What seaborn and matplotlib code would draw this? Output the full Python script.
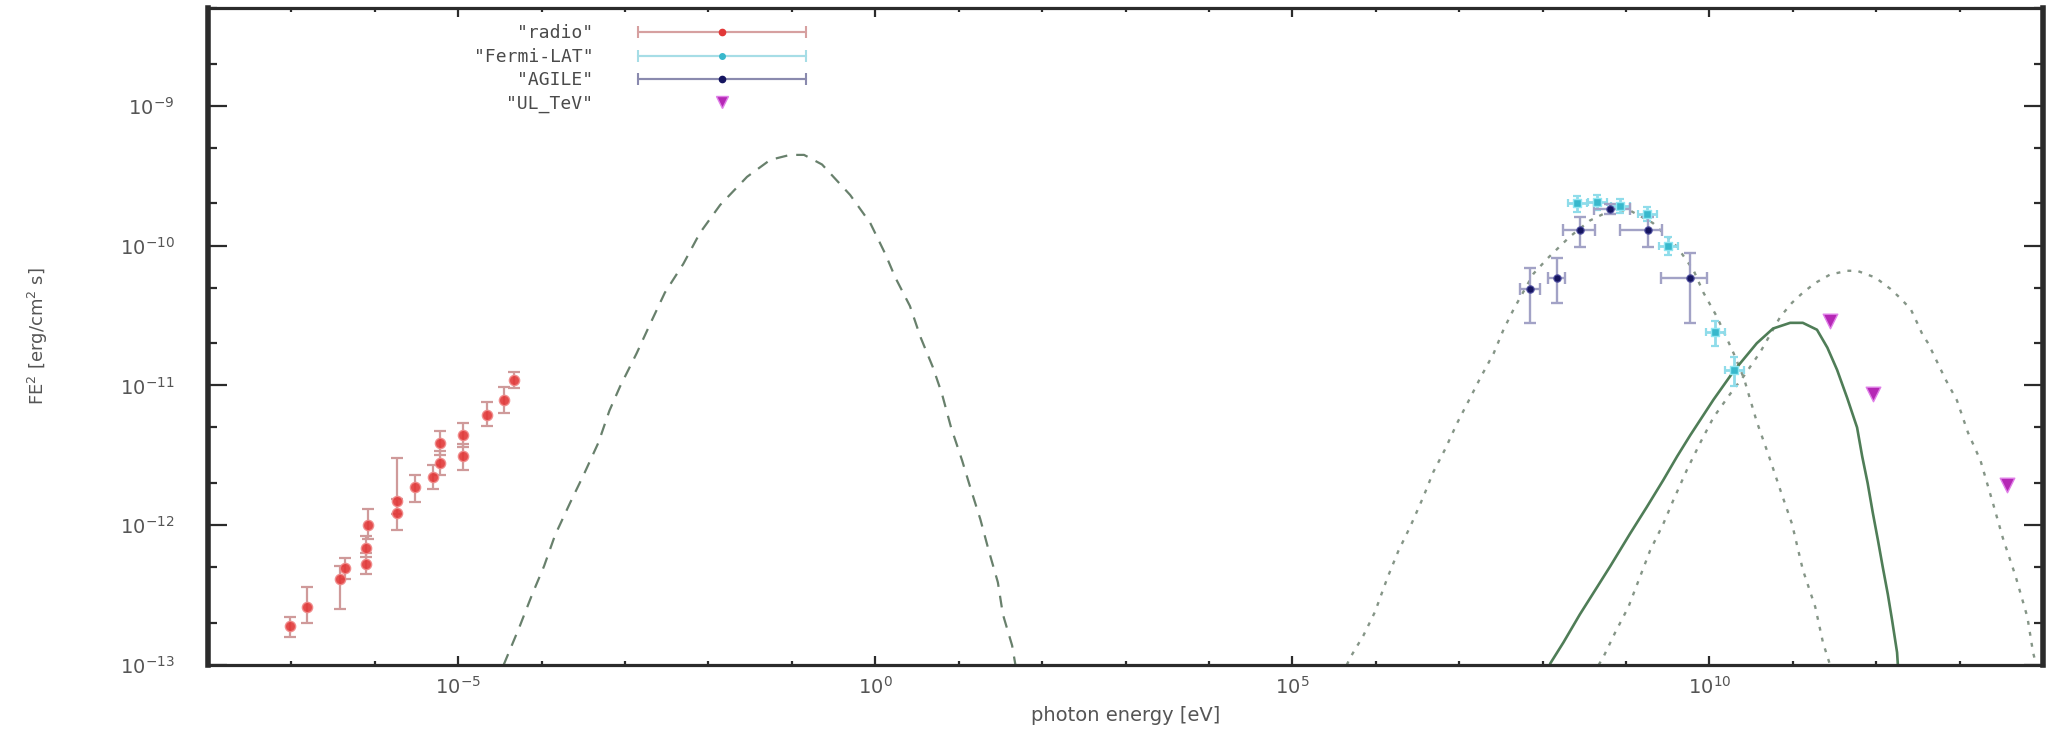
import numpy as np
import pandas as pd
import matplotlib
matplotlib.use("Agg")
import matplotlib.pyplot as plt
import seaborn as sns
from matplotlib.lines import Line2D
from matplotlib.legend_handler import HandlerLine2D, HandlerTuple
from matplotlib.ticker import FixedLocator, FixedFormatter, NullFormatter

# ---------------- data ----------------
radio_E = [9.6e-8, 1.55e-7, 3.8e-7, 4.4e-7, 7.8e-7, 7.8e-7, 8.3e-7, 1.86e-6, 1.86e-6,
           3.0e-6, 5.0e-6, 6.0e-6, 6.0e-6, 1.15e-5, 1.15e-5, 2.2e-5, 3.5e-5, 4.6e-5]
radio_F = [1.9e-13, 2.6e-13, 4.1e-13, 4.9e-13, 5.3e-13, 6.9e-13, 1.0e-12, 1.23e-12, 1.5e-12,
           1.87e-12, 2.2e-12, 2.8e-12, 3.9e-12, 3.1e-12, 4.4e-12, 6.1e-12, 7.8e-12, 1.1e-11]
radio_dF_lo = [0.32e-13, 0.6e-13, 1.6e-13, 0.8e-13, 0.8e-13, 1.0e-13, 0.2e-12, 0.3e-12, 0.3e-12,
               0.4e-12, 0.4e-12, 0.5e-12, 0.7e-12, 0.6e-12, 0.8e-12, 1.0e-12, 1.5e-12, 0.15e-11]
radio_dF_hi = [0.3e-13, 1.0e-13, 1.0e-13, 0.9e-13, 1.0e-13, 1.5e-13, 0.3e-12, 0.3e-12, 1.5e-12,
               0.4e-12, 0.5e-12, 0.6e-12, 0.8e-12, 0.7e-12, 1.0e-12, 1.5e-12, 2.0e-12, 0.15e-11]

fermi_E = [2.6e8, 4.5e8, 8.5e8, 1.8e9, 3.2e9, 1.17e10, 2.0e10]
fermi_F = [2.0e-10, 2.06e-10, 1.93e-10, 1.69e-10, 1.0e-10, 2.4e-11, 1.29e-11]
fermi_dF_lo = [0.25e-10, 0.25e-10, 0.22e-10, 0.2e-10, 0.15e-10, 0.5e-11, 0.3e-11]
fermi_dF_hi = [0.25e-10, 0.25e-10, 0.22e-10, 0.2e-10, 0.15e-10, 0.5e-11, 0.3e-11]
fermi_dE_lo = [0.6e8, 1.0e8, 1.9e8, 0.4e9, 0.7e9, 0.27e10, 0.45e10]
fermi_dE_hi = [0.8e8, 1.4e8, 2.6e8, 0.55e9, 1.0e9, 0.35e10, 0.6e10]

agile_E = [7.1e7, 1.5e8, 2.8e8, 6.5e8, 1.86e9, 5.9e9]
agile_F = [4.9e-11, 5.9e-11, 1.29e-10, 1.82e-10, 1.29e-10, 5.9e-11]
agile_dF_lo = [2.1e-11, 2.0e-11, 3.1e-11, 1.5e-11, 3.1e-11, 3.1e-11]
agile_dF_hi = [2.0e-11, 2.2e-11, 3.0e-11, 1.5e-11, 3.0e-11, 3.0e-11]
agile_dE_lo = [1.7e7, 0.33e8, 1.06e8, 2.4e8, 1.0e9, 3.3e9]
agile_dE_hi = [2.2e7, 0.36e8, 1.5e8, 4.7e8, 0.84e9, 3.4e9]

ul_E = [2.8e11, 9.1e11, 3.7e13]
ul_F = [2.9e-11, 8.7e-12, 1.94e-12]

# synchrotron model (dashed)
sync_E = [3.5e-5, 5.4e-5, 7.7e-5, 1.07e-4, 1.45e-4, 2.2e-4, 3.2e-4, 4.8e-4, 6.5e-4, 8.7e-4,
          1.38e-3, 2.0e-3, 3.0e-3, 5.0e-3, 7.9e-3, 1.38e-2, 2.9e-2, 5.5e-2, 9.5e-2, 0.14, 0.23,
          0.50, 0.87, 1.32, 1.74, 2.6, 3.5, 4.9, 6.3, 8.1, 11.0,
          14.1, 18.2, 22.9, 29.5, 33.9, 43.7, 47.9]
sync_F = [1.0e-13, 1.86e-13, 3.2e-13, 5.1e-13, 8.5e-13, 1.45e-12, 2.3e-12, 3.9e-12, 6.6e-12, 9.8e-12,
          1.7e-11, 2.75e-11, 4.6e-11, 7.4e-11, 1.23e-10, 1.95e-10, 3.1e-10, 4.1e-10, 4.45e-10, 4.45e-10, 3.8e-10,
          2.3e-10, 1.45e-10, 8.7e-11, 5.9e-11, 3.7e-11, 2.2e-11, 1.35e-11, 8.7e-12, 5.0e-12, 2.9e-12,
          1.78e-12, 1.1e-12, 6.6e-13, 3.9e-13, 2.3e-13, 1.38e-13, 1.0e-13]

# inverse-Compton model through Fermi data (dotted)
ic1_E = [4.5e5, 4.9e5, 7.1e5, 9.8e5, 1.38e6, 1.86e6, 2.6e6, 3.7e6, 4.9e6, 6.8e6,
         9.5e6, 1.35e7, 1.78e7, 2.6e7, 3.4e7, 4.5e7, 7.8e7, 1.15e8, 2.1e8, 3.7e8,
         6.5e8, 1.12e9, 2.1e9, 2.8e9, 4.1e9, 6.5e9, 8.5e9, 1.23e10, 1.95e10, 2.6e10,
         3.7e10, 5.1e10, 7.1e10, 9.8e10, 1.32e11, 1.86e11, 2.3e11, 2.8e11]
ic1_F = [1.0e-13, 1.12e-13, 1.62e-13, 2.4e-13, 4.2e-13, 6.5e-13, 9.8e-13, 1.58e-12, 2.4e-12, 3.5e-12,
         5.4e-12, 8.1e-12, 1.12e-11, 1.7e-11, 2.5e-11, 3.5e-11, 6.3e-11, 8.1e-11, 1.15e-10, 1.51e-10,
         1.78e-10, 1.78e-10, 1.45e-10, 1.23e-10, 9.8e-11, 6.6e-11, 4.6e-11, 3.1e-11, 1.7e-11, 1.12e-11,
         5.5e-12, 3.2e-12, 1.78e-12, 1.02e-12, 4.8e-13, 2.6e-13, 1.45e-13, 1.0e-13]

# second dotted model (TeV)
ic2_E = [4.7e8, 5.4e8, 7.4e8, 1.07e9, 1.48e9, 1.95e9, 2.8e9, 3.7e9, 5.4e9, 7.8e9,
         1.12e10, 1.78e10, 2.6e10, 4.1e10, 7.1e10, 9.8e10, 1.32e11, 1.86e11, 2.8e11, 4.5e11,
         5.9e11, 9.8e11, 1.48e12, 1.95e12, 2.6e12, 3.1e12, 3.6e12, 4.2e12, 6.8e12, 9.3e12,
         1.26e13, 1.78e13, 2.5e13, 3.3e13, 4.7e13, 6.5e13, 7.6e13, 8.3e13]
ic2_F = [1.0e-13, 1.15e-13, 1.7e-13, 2.6e-13, 4.3e-13, 6.6e-13, 1.02e-12, 1.51e-12, 2.5e-12, 3.9e-12,
         5.9e-12, 8.7e-12, 1.17e-11, 1.74e-11, 3.1e-11, 3.9e-11, 4.6e-11, 5.4e-11, 6.2e-11, 6.6e-11,
         6.6e-11, 5.9e-11, 4.9e-11, 4.2e-11, 3.5e-11, 2.8e-11, 2.3e-11, 2.0e-11, 1.1e-11, 7.8e-12,
         4.6e-12, 2.9e-12, 1.45e-12, 8.1e-13, 4.3e-13, 2.2e-13, 1.23e-13, 1.0e-13]

# solid model
pp_E = [1.23e8, 1.78e8, 2.8e8, 4.5e8, 6.5e8, 1.12e9, 1.78e9, 2.8e9, 4.1e9, 5.9e9,
        1.12e10, 1.95e10, 3.7e10, 5.8e10, 9.3e10, 1.32e11, 1.95e11, 2.6e11, 3.4e11, 4.5e11,
        5.9e11, 6.8e11, 7.9e11, 9.1e11, 1.05e12, 1.2e12, 1.38e12, 1.55e12, 1.78e12, 1.82e12]
pp_F = [1.02e-13, 1.45e-13, 2.3e-13, 3.6e-13, 5.1e-13, 8.7e-13, 1.35e-12, 2.1e-12, 3.1e-12, 4.4e-12,
        7.9e-12, 1.26e-11, 2.0e-11, 2.55e-11, 2.8e-11, 2.8e-11, 2.5e-11, 1.86e-11, 1.29e-11, 8.1e-12,
        5.0e-12, 3.1e-12, 2.0e-12, 1.23e-12, 7.8e-13, 5.0e-13, 3.2e-13, 2.1e-13, 1.23e-13, 1.0e-13]

series_labels = ['"radio"', '"Fermi-LAT"', '"AGILE"', '"UL_TeV"']
xtick_vals = [1e-5, 1e0, 1e5, 1e10]
xtick_labels = ['$10^{-5}$', '$10^{0}$', '$10^{5}$', '$10^{10}$']
ytick_vals = [1e-13, 1e-12, 1e-11, 1e-10, 1e-9]
ytick_labels = ['$10^{-13}$', '$10^{-12}$', '$10^{-11}$', '$10^{-10}$', '$10^{-9}$']

# ---------------- style ----------------
sns.set_theme(style="white")
plt.rcParams['font.family'] = ['DejaVu Sans']
plt.rcParams['lines.scale_dashes'] = False
plt.rcParams['mathtext.fontset'] = 'dejavusans'

W, H = 2051, 732
fig = plt.figure(figsize=(W / 100, H / 100), dpi=100)
L, R, T, B = 208, 2043, 8, 665
ax = fig.add_axes([L / W, 1 - B / H, (R - L) / W, (B - T) / H])
ax.set_xscale('log')
ax.set_yscale('log')
ax.set_xlim(1e-8, 1e14)
ax.set_ylim(1e-13, 5e-9)

c_radio, c_radio_bar = '#e23838', '#cf9a9a'
c_fermi, c_fermi_bar = '#38b8cc', '#8fdcea'
c_agile, c_agile_bar = '#151560', '#a2a2c6'
c_ul = '#b528b5'
c_dash = '#68806c'
c_dot = '#859587'
c_solid = '#4f7d57'

# model curves
def curve(x, y, color, ls, lw):
    df = pd.DataFrame({'E': x, 'F': y})
    sns.lineplot(data=df, x='E', y='F', ax=ax, color=color, lw=lw,
                 estimator=None, sort=False, linestyle=ls, zorder=2)

curve(sync_E, sync_F, c_dash, (0, (8.5, 6.5)), 1.6)
curve(ic1_E, ic1_F, c_dot, (0, (2.8, 5.2)), 1.7)
curve(ic2_E, ic2_F, c_dot, (0, (2.8, 5.2)), 1.7)
curve(pp_E, pp_F, c_solid, '-', 1.9)

# data points with error bars
ax.errorbar(radio_E, radio_F, yerr=[radio_dF_lo, radio_dF_hi], fmt='none',
            ecolor=c_radio_bar, elinewidth=1.6, capsize=4, capthick=1.6, zorder=3)
ax.errorbar(fermi_E, fermi_F, xerr=[fermi_dE_lo, fermi_dE_hi], yerr=[fermi_dF_lo, fermi_dF_hi],
            fmt='none', ecolor=c_fermi_bar, elinewidth=2.0, capsize=3, capthick=1.6, zorder=3)
ax.errorbar(agile_E, agile_F, xerr=[agile_dE_lo, agile_dE_hi], yerr=[agile_dF_lo, agile_dF_hi],
            fmt='none', ecolor=c_agile_bar, elinewidth=1.7, capsize=4, capthick=1.7, zorder=4)

sns.scatterplot(x=radio_E, y=radio_F, ax=ax, marker='o', s=55, color=c_radio,
                edgecolor='#f08a8a', linewidth=1.0, alpha=0.9, zorder=5, legend=False)
sns.scatterplot(x=fermi_E, y=fermi_F, ax=ax, marker='s', s=40, color=c_fermi,
                edgecolor='#90e6f2', linewidth=1.0, zorder=5, legend=False)
sns.scatterplot(x=agile_E, y=agile_F, ax=ax, marker='o', s=28, color=c_agile,
                edgecolor='#5050a0', linewidth=0.8, zorder=6, legend=False)
sns.scatterplot(x=ul_E, y=ul_F, ax=ax, marker='v', s=110, color=c_ul,
                edgecolor='#e080e8', linewidth=1.0, zorder=6, legend=False)

# axes styling
frame = '#2b2b2b'
for side in ['left', 'right']:
    ax.spines[side].set_linewidth(4.0)
    ax.spines[side].set_color(frame)
for side in ['top', 'bottom']:
    ax.spines[side].set_linewidth(2.3)
    ax.spines[side].set_color(frame)

ax.xaxis.set_major_locator(FixedLocator(xtick_vals))
ax.xaxis.set_major_formatter(FixedFormatter(xtick_labels))
ax.xaxis.set_minor_locator(FixedLocator([10.0 ** k for k in range(-8, 15)]))
ax.xaxis.set_minor_formatter(NullFormatter())
ax.yaxis.set_major_locator(FixedLocator(ytick_vals))
ax.yaxis.set_major_formatter(FixedFormatter(ytick_labels))
ax.yaxis.set_minor_locator(FixedLocator([m * 10.0 ** k for k in range(-13, -8) for m in (2, 5)]))
ax.yaxis.set_minor_formatter(NullFormatter())

tc = '#555555'
ax.tick_params(axis='y', which='major', direction='in', length=14, width=1.6, color=frame,
               left=True, right=True, pad=24, labelsize=14, labelcolor=tc)
ax.tick_params(axis='y', which='minor', direction='in', length=6.5, width=1.6, color=frame,
               left=True, right=True)
ax.tick_params(axis='x', which='major', direction='in', length=6.5, width=1.6, color=frame,
               bottom=True, top=True, pad=8, labelsize=14, labelcolor=tc)
ax.tick_params(axis='x', which='minor', direction='in', length=3, width=1.6, color=frame,
               bottom=True, top=True)
ax.grid(False)

ax.set_xlabel('photon energy [eV]', fontsize=14, color=tc)
ax.xaxis.set_label_coords(0.5, -0.062)
ax.set_ylabel('FE$^2$ [erg/cm$^2$ s]', fontsize=13, color=tc)
ax.yaxis.set_label_coords(-0.086, 0.5)

# gnuplot-like key: right-justified labels, error-bar samples on the right
def eb_handle(lc, mc, marker, ms):
    caps = Line2D([], [], color=lc, lw=1.5, marker='|', markersize=8, markeredgewidth=1.5)
    pt = Line2D([], [], color=lc, lw=1.5, marker=marker, markersize=ms,
                markerfacecolor=mc, markeredgecolor=mc)
    return caps, pt

h_radio = eb_handle('#d6a0a0', c_radio, 'o', 4.5)
h_fermi = eb_handle('#a6dde6', c_fermi, 'o', 4.0)
h_agile = eb_handle('#8a8aae', c_agile, 'o', 4.5)
h_ul = Line2D([], [], ls='none', marker='v', markersize=9, color=c_ul,
              markeredgecolor='#e080e8')

hmap = {tuple: HandlerTuple(ndivide=1, pad=0)}
for caps, pt in (h_radio, h_fermi, h_agile):
    hmap[caps] = HandlerLine2D(numpoints=2, marker_pad=0)
    hmap[pt] = HandlerLine2D(numpoints=1)

leg = ax.legend([h_radio, h_fermi, h_agile, h_ul], series_labels,
                loc='upper right', bbox_to_anchor=(0.326, 0.975),
                markerfirst=False, frameon=False, handler_map=hmap,
                handlelength=9.3, handletextpad=2.5, labelspacing=0.3,
                borderpad=0, borderaxespad=0,
                prop={'family': 'DejaVu Sans Mono', 'size': 13})
for t in leg.get_texts():
    t.set_color('#4a4a4a')

fig.savefig('out.png', dpi=100)
